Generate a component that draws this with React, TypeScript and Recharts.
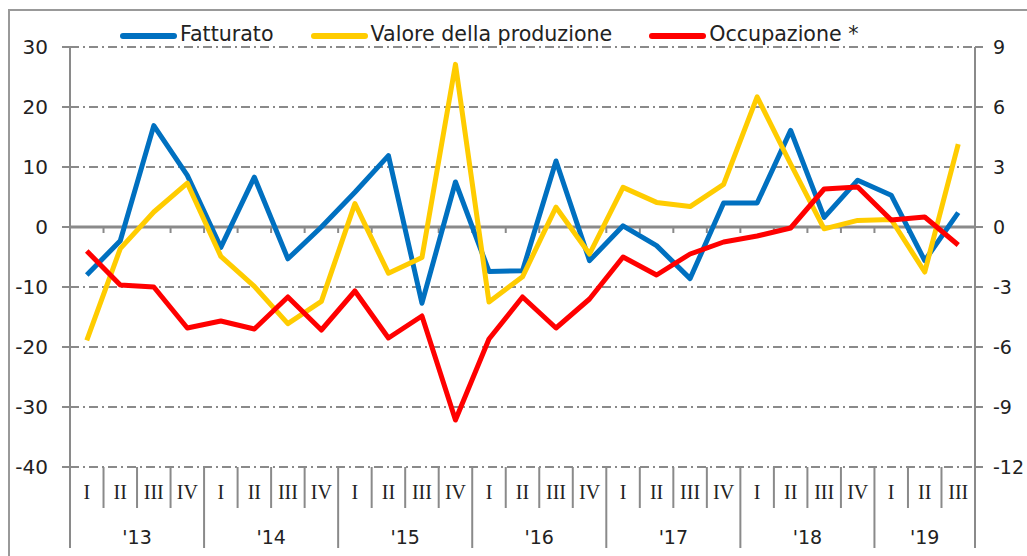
import { CartesianGrid, Line, LineChart, ReferenceLine, XAxis, YAxis } from "recharts";

const quarters = [
  "I", "II", "III", "IV",
  "I", "II", "III", "IV",
  "I", "II", "III", "IV",
  "I", "II", "III", "IV",
  "I", "II", "III", "IV",
  "I", "II", "III", "IV",
  "I", "II", "III",
];
const years = ["'13", "'14", "'15", "'16", "'17", "'18", "'19"];

const fatturato = [
  -8, -2.3, 16.9, 8.6, -3.4, 8.3, -5.3, 0, 5.8, 11.9, -12.7, 7.5, -7.4, -7.3,
  11.0, -5.6, 0.2, -3.1, -8.6, 4.0, 4.0, 16.1, 1.6, 7.8, 5.3, -5.6, 2.4,
];
const valore = [
  -18.9, -3.6, 2.5, 7.3, -4.9, -9.9, -16.1, -12.4, 3.9, -7.7, -5.1, 27.1, -12.5,
  -8.3, 3.3, -4.5, 6.6, 4.1, 3.4, 7.1, 21.7, 10.5, -0.3, 1.1, 1.25, -7.5, 13.8,
];
const occupazione = [
  -1.2, -2.9, -3.0, -5.05, -4.7, -5.1, -3.5, -5.15, -3.2, -5.55, -4.45, -9.65,
  -5.6, -3.5, -5.05, -3.6, -1.5, -2.4, -1.35, -0.75, -0.45, -0.05, 1.9, 2.0,
  0.35, 0.5, -0.9,
];

const leftTicks = [-40, -30, -20, -10, 0, 10, 20, 30];
const rightTicks = [-12, -9, -6, -3, 0, 3, 6, 9];

const series = [
  { key: "fatturato", name: "Fatturato", color: "#0070C0", axis: "left" },
  { key: "valore", name: "Valore della produzione", color: "#FFCC00", axis: "left" },
  { key: "occupazione", name: "Occupazione *", color: "#FF0000", axis: "right" },
];

const data = quarters.map((q, i) => ({
  pos: i + 0.5,
  q,
  fatturato: fatturato[i],
  valore: valore[i],
  occupazione: occupazione[i],
}));

// boundaries between quarters, and the centre of each year group
const boundaries = Array.from({ length: quarters.length + 1 }, (_, i) => i);
const yearCenters = years.map((_, y) => {
  const start = y * 4;
  const end = Math.min(start + 4, quarters.length);
  return (start + end) / 2;
});
const xTicks = Array.from(
  new Set([...boundaries, ...data.map((d) => d.pos), ...yearCenters])
).sort((a, b) => a - b);

const GRAY = "#8a8a8a";
const FONT = "'DejaVu Sans', sans-serif";

function QuarterTick(props: any) {
  const { x, y, payload } = props;
  const v = payload.value as number;
  const parts: any[] = [];
  if (boundaries.includes(v)) {
    const isYear = v % 4 === 0 || v === quarters.length;
    parts.push(
      <line key="sep" x1={x} x2={x} y1={y} y2={y + (isYear ? 81 : 41)} stroke={GRAY} strokeWidth={2} />
    );
  }
  const qi = data.findIndex((d) => d.pos === v);
  if (qi >= 0) {
    parts.push(
      <text key="q" x={x} y={y + 32} textAnchor="middle" fontFamily="'Liberation Serif', serif" fontSize={20} fill="#222">
        {quarters[qi]}
      </text>
    );
  }
  const yi = yearCenters.indexOf(v);
  if (yi >= 0) {
    parts.push(
      <text key="y" x={x} y={y + 77} textAnchor="middle" fontFamily={FONT} fontSize={19} fill="#222">
        {years[yi]}
      </text>
    );
  }
  return <g>{parts}</g>;
}

export default function App() {
  return (
    <div
      style={{
        position: "absolute",
        left: 0,
        top: 0,
        width: 1027,
        height: 556,
        overflow: "hidden",
        background: "#fff",
        fontFamily: FONT,
      }}
    >
      <div
        style={{
          position: "absolute",
          left: 8,
          top: 9,
          width: 1100,
          height: 700,
          border: "2px solid #999",
        }}
      />
      <div
        style={{
          position: "absolute",
          left: 120,
          top: 22,
          display: "flex",
          gap: 37,
          fontSize: 20.6,
          color: "#222",
          whiteSpace: "nowrap",
        }}
      >
        {series.map((s) => (
          <div key={s.key} style={{ display: "flex", alignItems: "center" }}>
            <div
              style={{
                width: 57,
                height: 6,
                borderRadius: 3,
                background: s.color,
                marginRight: 3,
                marginTop: 3,
              }}
            />
            <span>{s.name}</span>
          </div>
        ))}
      </div>
      <div style={{ position: "absolute", left: 0, top: 0 }}>
        <LineChart
          width={1060}
          height={556}
          data={data}
          margin={{ top: 47, right: 0, left: 0, bottom: 0 }}
        >
          <CartesianGrid
            vertical={false}
            stroke={GRAY}
            strokeWidth={2}
            strokeDasharray="9 4 2 4"
            yAxisId="left"
          />
          <XAxis
            dataKey="pos"
            type="number"
            domain={[0, quarters.length]}
            ticks={xTicks}
            interval={0}
            height={89}
            axisLine={false}
            tickLine={false}
            tickSize={0}
            tickMargin={0}
            tick={(p: any) => <QuarterTick {...p} />}
          />
          <YAxis
            yAxisId="left"
            domain={[-40, 30]}
            ticks={leftTicks}
            interval={0}
            width={70}
            stroke={GRAY}
            strokeWidth={2}
            tickSize={8}
            tickMargin={14}
            tick={{ fill: "#222", fontSize: 20, fontFamily: FONT }}
          />
          <YAxis
            yAxisId="right"
            orientation="right"
            domain={[-12, 9]}
            ticks={rightTicks}
            interval={0}
            width={85}
            stroke={GRAY}
            strokeWidth={2}
            tickSize={8}
            tickMargin={10}
            tick={{ fill: "#222", fontSize: 19, fontFamily: FONT, textAnchor: "start" }}
          />
          <ReferenceLine yAxisId="left" y={0} stroke={GRAY} strokeWidth={3} />
          {boundaries.slice(1, -1).map((b) => (
            <ReferenceLine
              key={b}
              yAxisId="left"
              segment={[
                { x: b, y: 0 },
                { x: b, y: -1 },
              ]}
              stroke={GRAY}
              strokeWidth={2}
            />
          ))}
          {series.map((s) => (
            <Line
              key={s.key}
              yAxisId={s.axis}
              dataKey={s.key}
              name={s.name}
              stroke={s.color}
              strokeWidth={5}
              strokeLinejoin="round"
              dot={false}
              type="linear"
              isAnimationActive={false}
            />
          ))}
        </LineChart>
      </div>
    </div>
  );
}
